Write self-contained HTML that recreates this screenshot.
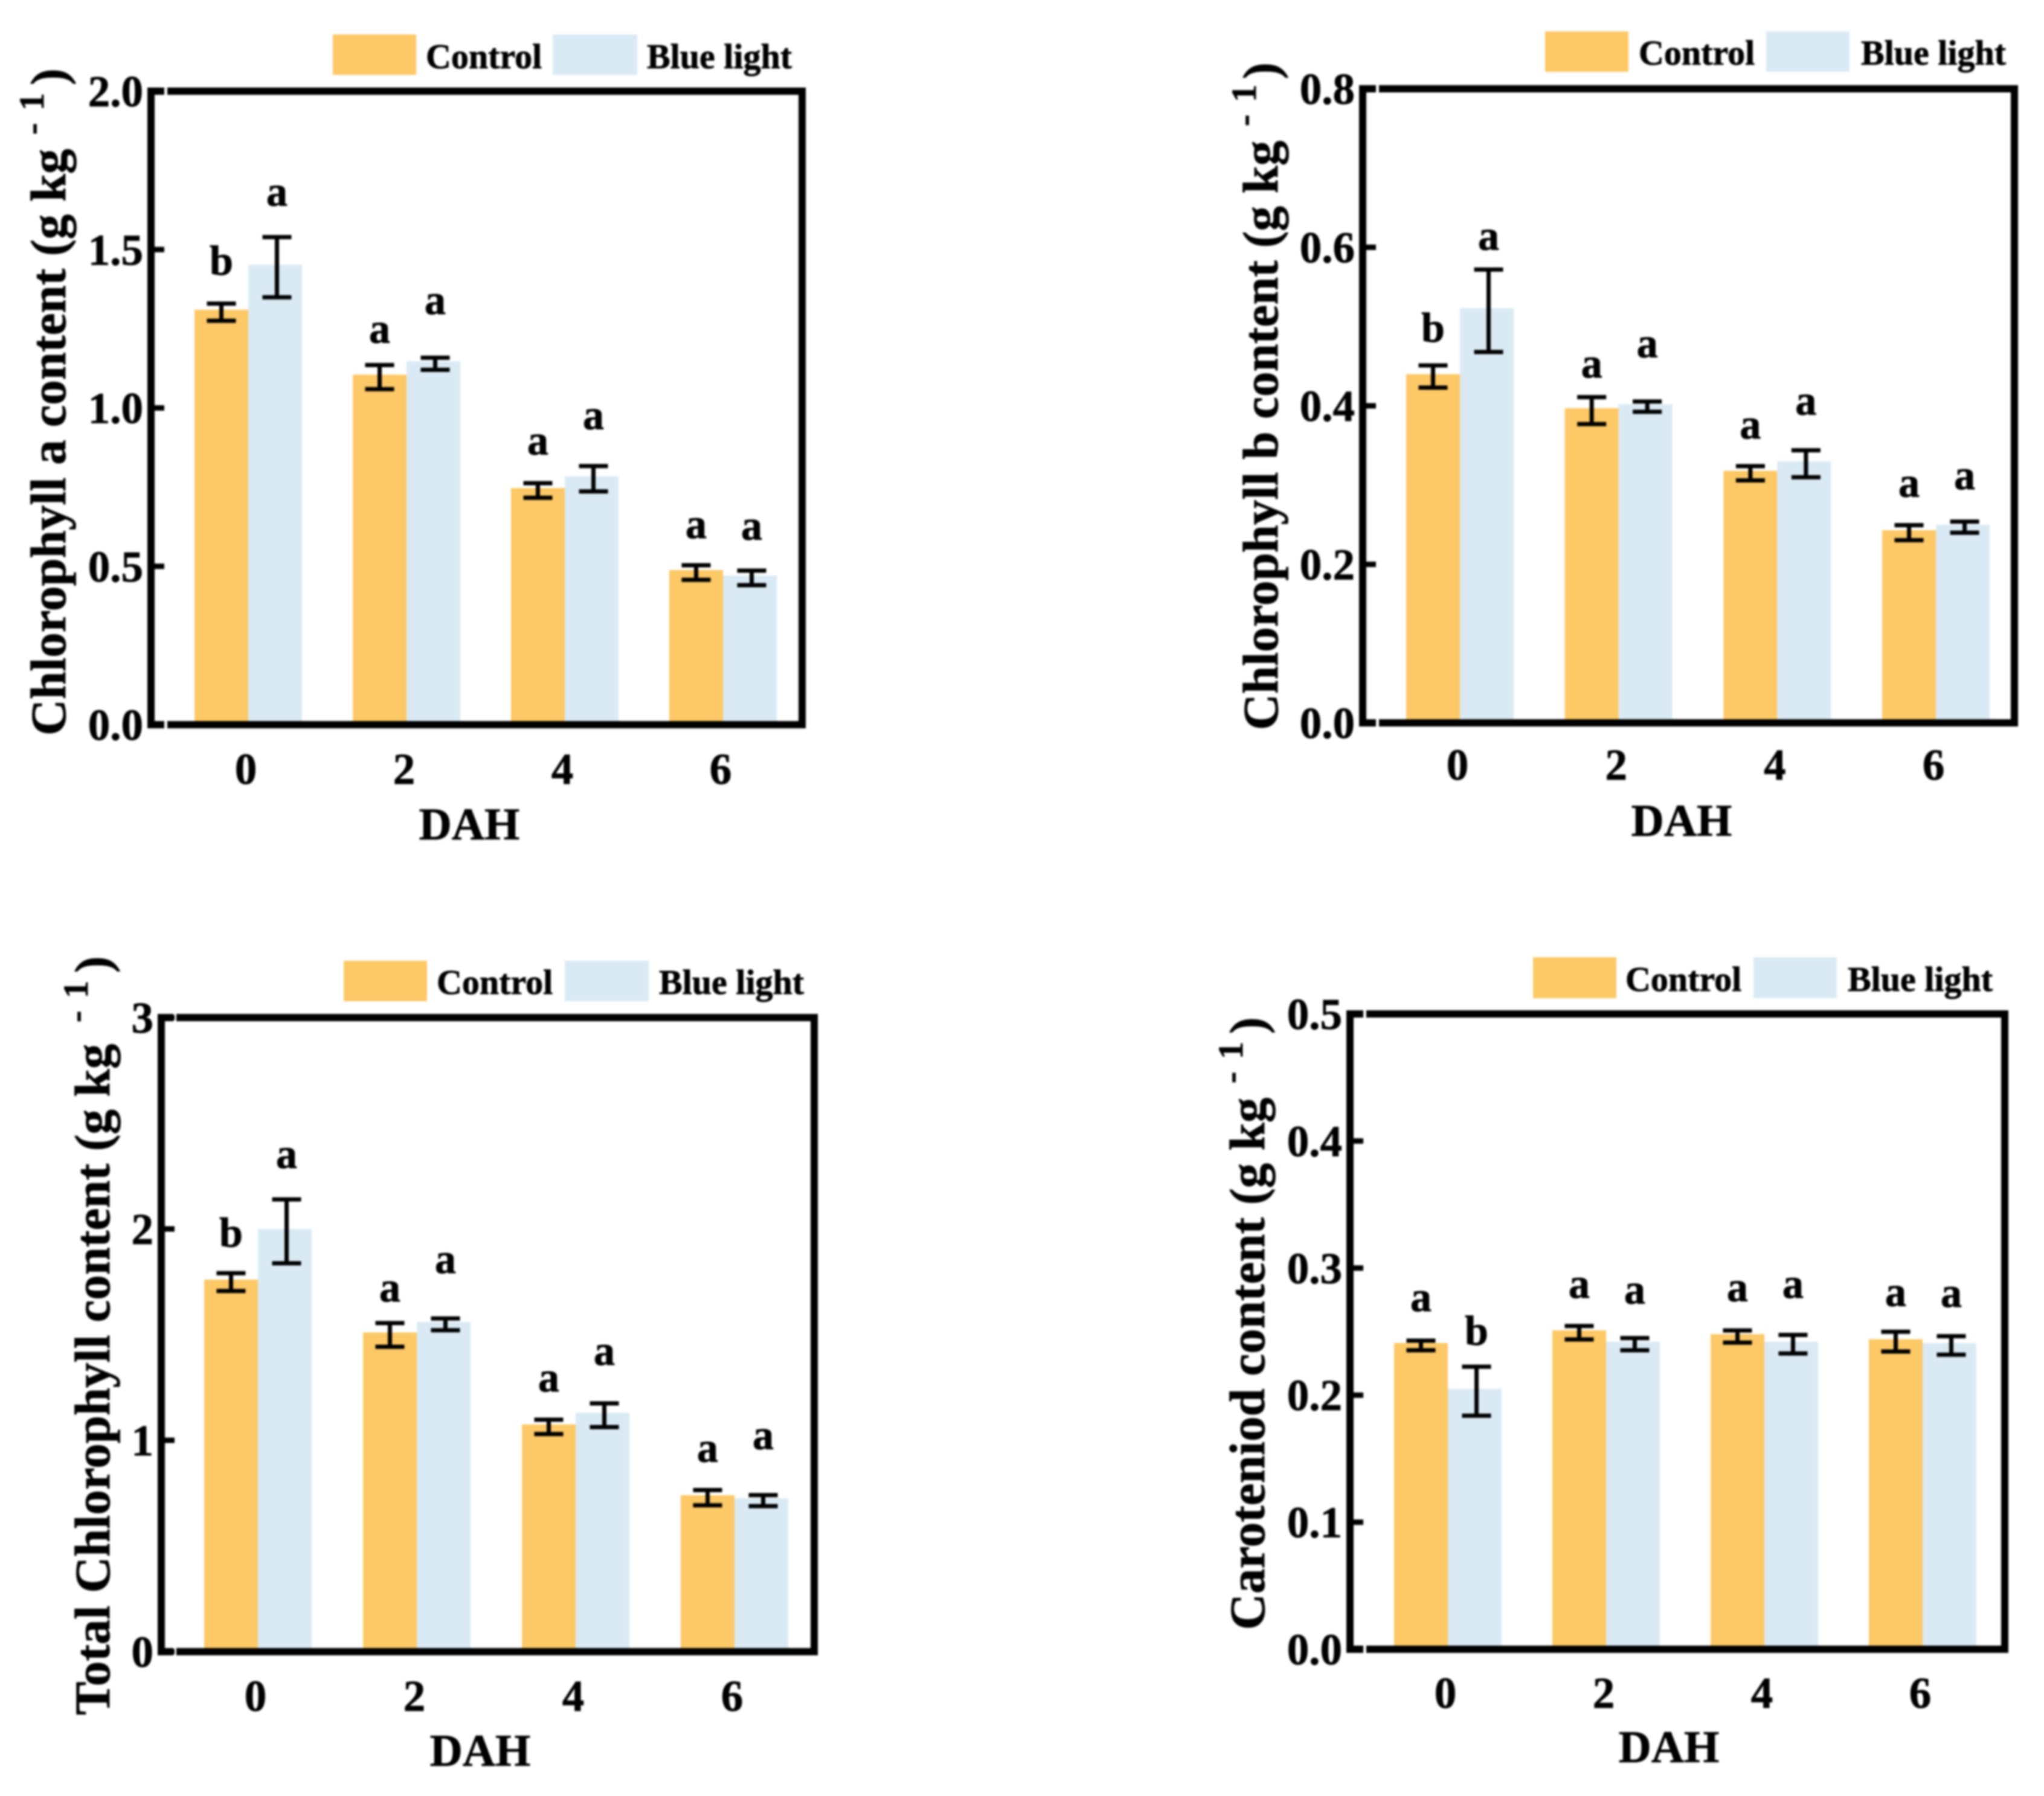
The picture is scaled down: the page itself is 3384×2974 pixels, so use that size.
<!DOCTYPE html>
<html lang="en">
<head>
<meta charset="utf-8">
<title>Pigment content under control and blue light</title>
<style>
html,body{margin:0;padding:0;background:#fff;}
svg{display:block;filter:blur(1.5px);}
text{font-family:"Liberation Serif",serif;font-weight:bold;fill:#000;stroke:#000;stroke-width:.8px;}
.leg{font-size:58px;}
.ttl{font-size:83px;}
.sup{font-size:58px;}
.xt{font-size:75px;}
.frame{fill:none;stroke:#000;stroke-width:12;}
</style>
</head>
<body>
<svg xmlns="http://www.w3.org/2000/svg" width="3384" height="2974" viewBox="0 0 3384 2974">
<rect width="3384" height="2974" fill="#fff"/>

<g>
  <g id="marks-a"></g>
  <rect class="frame" x="250" y="151" width="1078" height="1049"/>
  <rect x="272" y="143" width="5" height="16" fill="#fff"/>
  <rect x="272" y="1192" width="5" height="16" fill="#fff"/>
  <g id="ticks-a"></g>
  <rect x="551" y="57" width="138" height="67" fill="#FDC866"/>
  <text class="leg" x="705" y="113">Control</text>
  <rect x="915" y="57" width="140" height="67" fill="#DAEAF4"/>
  <text class="leg" x="1071" y="113">Blue light</text>
  <text class="xt" x="777" y="1390" text-anchor="middle">DAH</text>
  <g transform="translate(108,1218) rotate(-90)">
    <text class="ttl" x="0" y="0">Chlorophyll a content (g kg</text>
    <text class="sup" x="995" y="-36">-</text>
    <text class="sup" x="1035" y="-36">1</text>
    <text class="ttl" x="1077" y="0">)</text>
  </g>
</g>

<g>
  <g id="marks-b"></g>
  <rect class="frame" x="2256" y="147" width="1079" height="1050"/>
  <rect x="2278" y="139" width="5" height="16" fill="#fff"/>
  <rect x="2278" y="1189" width="5" height="16" fill="#fff"/>
  <g id="ticks-b"></g>
  <rect x="2558" y="52" width="138" height="67" fill="#FDC866"/>
  <text class="leg" x="2713" y="107">Control</text>
  <rect x="2924" y="52" width="138" height="67" fill="#DAEAF4"/>
  <text class="leg" x="3081" y="107">Blue light</text>
  <text class="xt" x="2784" y="1384" text-anchor="middle">DAH</text>
  <g transform="translate(2115,1209) rotate(-90)">
    <text class="ttl" x="0" y="0">Chlorophyll b content (g kg</text>
    <text class="sup" x="1000" y="-36">-</text>
    <text class="sup" x="1040" y="-36">1</text>
    <text class="ttl" x="1078" y="0">)</text>
  </g>
</g>

<g>
  <g id="marks-c"></g>
  <rect class="frame" x="267" y="1685" width="1081" height="1050"/>
  <rect x="287" y="1677" width="5" height="16" fill="#fff"/>
  <rect x="287" y="2727" width="5" height="16" fill="#fff"/>
  <g id="ticks-c"></g>
  <rect x="569" y="1591" width="138" height="67" fill="#FDC866"/>
  <text class="leg" x="723" y="1646">Control</text>
  <rect x="935" y="1591" width="139" height="67" fill="#DAEAF4"/>
  <text class="leg" x="1091" y="1646">Blue light</text>
  <text class="xt" x="795" y="2924" text-anchor="middle">DAH</text>
  <g transform="translate(181,2840) rotate(-90)">
    <text class="ttl" x="0" y="0">Total Chlorophyll content (g kg</text>
    <text class="sup" x="1147" y="-36">-</text>
    <text class="sup" x="1187" y="-36">1</text>
    <text class="ttl" x="1229" y="0">)</text>
  </g>
</g>

<g>
  <g id="marks-d"></g>
  <rect class="frame" x="2235" y="1679" width="1084" height="1052"/>
  <rect x="2257" y="1671" width="5" height="16" fill="#fff"/>
  <rect x="2257" y="2723" width="5" height="16" fill="#fff"/>
  <g id="ticks-d"></g>
  <rect x="2538" y="1585" width="138" height="68" fill="#FDC866"/>
  <text class="leg" x="2691" y="1641">Control</text>
  <rect x="2903" y="1585" width="138" height="68" fill="#DAEAF4"/>
  <text class="leg" x="3059" y="1641">Blue light</text>
  <text class="xt" x="2763" y="2918" text-anchor="middle">DAH</text>
  <g transform="translate(2093,2699) rotate(-90)">
    <text class="ttl" x="0" y="0">Caroteniod content (g kg</text>
    <text class="sup" x="905" y="-36">-</text>
    <text class="sup" x="945" y="-36">1</text>
    <text class="ttl" x="987" y="0">)</text>
  </g>
</g>
</svg>

<script>
const categories = ['0', '2', '4', '6'];

const chlAControl = [1.31, 1.105, 0.747, 0.488];
const chlABlue = [1.452, 1.147, 0.784, 0.471];
const chlAControlErr = [0.027, 0.038, 0.023, 0.023];
const chlABlueErr = [0.095, 0.019, 0.04, 0.023];
const chlAControlLetters = ['b', 'a', 'a', 'a'];
const chlABlueLetters = ['a', 'a', 'a', 'a'];
const chlAControlLetterGap = [0.086, 0.066, 0.086, 0.081];
const chlABlueLetterGap = [0.095, 0.133, 0.112, 0.093];
const chlATicks = ['0.0', '0.5', '1.0', '1.5', '2.0'];

const chlBControl = [0.44, 0.397, 0.318, 0.243];
const chlBBlue = [0.523, 0.402, 0.33, 0.25];
const chlBControlErr = [0.014, 0.017, 0.009, 0.0095];
const chlBBlueErr = [0.052, 0.0065, 0.017, 0.007];
const chlBControlLetters = ['b', 'a', 'a', 'a'];
const chlBBlueLetters = ['a', 'a', 'a', 'a'];
const chlBControlLetterGap = [0.028, 0.023, 0.033, 0.034];
const chlBBlueLetterGap = [0.023, 0.054, 0.043, 0.039];
const chlBTicks = ['0.0', '0.2', '0.4', '0.6', '0.8'];

const totalControl = [1.76, 1.51, 1.075, 0.74];
const totalBlue = [2.0, 1.56, 1.13, 0.726];
const totalControlErr = [0.042, 0.056, 0.034, 0.036];
const totalBlueErr = [0.151, 0.028, 0.056, 0.026];
const totalControlLetters = ['b', 'a', 'a', 'a'];
const totalBlueLetters = ['a', 'a', 'a', 'a'];
const totalControlLetterGap = [0.118, 0.096, 0.127, 0.127];
const totalBlueLetterGap = [0.142, 0.208, 0.175, 0.211];
const totalTicks = ['0', '1', '2', '3'];

const carControl = [0.241, 0.251, 0.248, 0.244];
const carBlue = [0.205, 0.242, 0.242, 0.241];
const carControlErr = [0.0038, 0.0053, 0.0048, 0.0078];
const carBlueErr = [0.0193, 0.0048, 0.0073, 0.0073];
const carControlLetters = ['a', 'a', 'a', 'a'];
const carBlueLetters = ['b', 'a', 'a', 'a'];
const carControlLetterGap = [0.022, 0.021, 0.022, 0.019];
const carBlueLetterGap = [0.016, 0.026, 0.028, 0.022];
const carTicks = ['0.0', '0.1', '0.2', '0.3', '0.4', '0.5'];

const SVG_NS = 'http://www.w3.org/2000/svg';
const CONTROL_COLOR = '#FDC866';
const BLUE_COLOR = '#DAEAF4';
const BAR_W = 89;
const CAP_W = 48;
const ERR_DROP = 4;
const LETTER_DROP = 1.5;

function make(tag, attrs, parent) {
  const el = document.createElementNS(SVG_NS, tag);
  for (const k in attrs) el.setAttribute(k, attrs[k]);
  parent.appendChild(el);
  return el;
}

function drawSeries(layer, xCenter, yScale, values, errs, letters, gaps, color, barShift, errShift, seriesName) {
  values.forEach(function (v, i) {
    const cx = xCenter(i);
    const bar = make('rect', {
      x: cx + barShift,
      y: yScale(v),
      width: BAR_W,
      height: yScale(0) - yScale(v),
      fill: color
    }, layer);
    
    
  });
  values.forEach(function (v, i) {
    const ex = xCenter(i) + barShift + BAR_W / 2 + errShift;
    const hi = yScale(v + errs[i]) + ERR_DROP;
    const lo = yScale(v - errs[i]) + ERR_DROP;
    const err = make('path', {
      d: 'M' + (ex - CAP_W / 2) + ' ' + hi + 'H' + (ex + CAP_W / 2) +
         'M' + ex + ' ' + hi + 'V' + lo +
         'M' + (ex - CAP_W / 2) + ' ' + lo + 'H' + (ex + CAP_W / 2),
      fill: 'none',
      stroke: '#000',
      'stroke-width': 7
    }, layer);
    
    
    const lab = make('text', {
      x: ex,
      y: yScale(v + errs[i] + gaps[i]) + LETTER_DROP,
      'text-anchor': 'middle',
      'font-size': 70
    }, layer);
    lab.textContent = letters[i];
    
    
  });
}

function drawPanel(p) {
  const marks = document.getElementById('marks-' + p.id);
  const ticks = document.getElementById('ticks-' + p.id);
  const yMax = parseFloat(p.yTicks[p.yTicks.length - 1]);
  const yScale = function (v) { return p.bottom - (v / yMax) * (p.bottom - p.top); };
  const xCenter = function (i) { return p.firstCenter + i * p.step; };

  drawSeries(marks, xCenter, yScale, p.control, p.controlErr, p.controlLetters, p.controlGap, CONTROL_COLOR, -BAR_W, 0, 'control');
  drawSeries(marks, xCenter, yScale, p.blue, p.blueErr, p.blueLetters, p.blueGap, BLUE_COLOR, 0, 3, 'blue-light');

  p.yTicks.forEach(function (t) {
    const y = yScale(parseFloat(t));
    const mark = make('line', { x1: p.left, x2: p.left + 22, y1: y, y2: y, stroke: '#000', 'stroke-width': 9 }, ticks);
    
    
    const lab = make('text', { x: p.left - 13, y: y + 25, 'text-anchor': 'end', 'font-size': 73 }, ticks);
    lab.textContent = t;
    
    
  });

  categories.forEach(function (c, i) {
    const lab = make('text', { x: xCenter(i) - 4, y: p.xLabelY, 'text-anchor': 'middle', 'font-size': 73 }, ticks);
    lab.textContent = c;
    
    
  });
}

drawPanel({ id: 'a', left: 250, top: 151, bottom: 1200, firstCenter: 411, step: 262, xLabelY: 1298,
  control: chlAControl, blue: chlABlue, controlErr: chlAControlErr, blueErr: chlABlueErr,
  controlLetters: chlAControlLetters, blueLetters: chlABlueLetters,
  controlGap: chlAControlLetterGap, blueGap: chlABlueLetterGap, yTicks: chlATicks });
drawPanel({ id: 'b', left: 2256, top: 147, bottom: 1197, firstCenter: 2417, step: 262.7, xLabelY: 1291,
  control: chlBControl, blue: chlBBlue, controlErr: chlBControlErr, blueErr: chlBBlueErr,
  controlLetters: chlBControlLetters, blueLetters: chlBBlueLetters,
  controlGap: chlBControlLetterGap, blueGap: chlBBlueLetterGap, yTicks: chlBTicks });
drawPanel({ id: 'c', left: 267, top: 1685, bottom: 2735, firstCenter: 427, step: 263, xLabelY: 2833,
  control: totalControl, blue: totalBlue, controlErr: totalControlErr, blueErr: totalBlueErr,
  controlLetters: totalControlLetters, blueLetters: totalBlueLetters,
  controlGap: totalControlLetterGap, blueGap: totalBlueLetterGap, yTicks: totalTicks });
drawPanel({ id: 'd', left: 2235, top: 1679, bottom: 2731, firstCenter: 2397, step: 262, xLabelY: 2828,
  control: carControl, blue: carBlue, controlErr: carControlErr, blueErr: carBlueErr,
  controlLetters: carControlLetters, blueLetters: carBlueLetters,
  controlGap: carControlLetterGap, blueGap: carBlueLetterGap, yTicks: carTicks });
</script>
</body>
</html>
